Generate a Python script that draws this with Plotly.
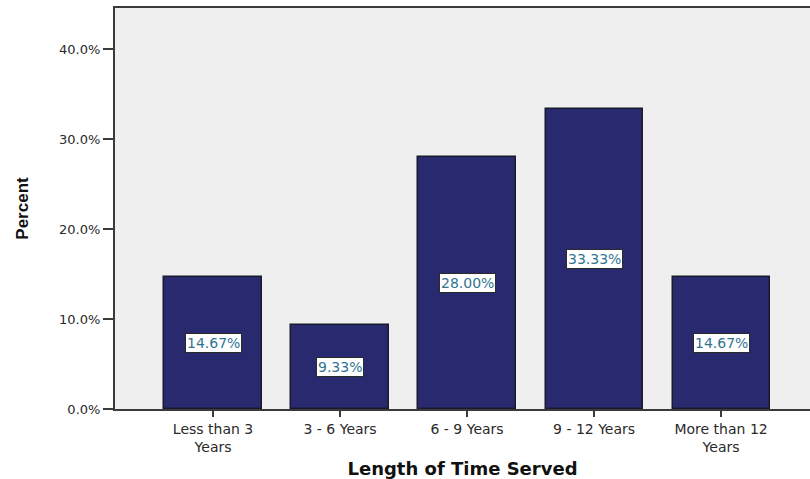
import plotly.graph_objects as go

# Length of time served, share of respondents (%)
categories = ["Less than 3<br>Years", "3 - 6 Years", "6 - 9 Years", "9 - 12 Years", "More than 12<br>Years"]
percent = [14.67, 9.33, 28.00, 33.33, 14.67]
y_ticks = [0, 10, 20, 30, 40]
y_tick_labels = ["0.0%", "10.0%", "20.0%", "30.0%", "40.0%"]

bar_color = "#29296f"
label_color = "#2f7492"
axis_color = "#3a3a3a"
font_family = "DejaVu Sans, Verdana, sans-serif"

x_idx = list(range(len(categories)))

fig = go.Figure()
fig.add_trace(go.Bar(
    x=x_idx,
    y=percent,
    width=0.765,
    marker=dict(color=bar_color, line=dict(color="#1a1a2a", width=1.5)),
    hoverinfo="skip",
))

# Value labels boxed at mid-height of each bar
for xi, v in zip(x_idx, percent):
    fig.add_annotation(
        x=xi, y=v / 2, text=f"{v:.2f}%", showarrow=False,
        font=dict(family=font_family, size=14, color=label_color),
        bgcolor="white", bordercolor="#2a2a2a", borderwidth=1, borderpad=1,
    )

fig.update_layout(
    width=810, height=479,
    margin=dict(l=115, r=0, t=8, b=70),
    paper_bgcolor="white",
    plot_bgcolor="#efefef",
    showlegend=False,
    bargap=0,
    font=dict(family=font_family, color="#222222"),
    xaxis=dict(
        range=[-0.772, 4.70],
        tickmode="array", tickvals=x_idx, ticktext=categories,
        ticks="outside", ticklen=6, tickwidth=1.5, tickcolor=axis_color,
        showline=True, linecolor=axis_color, linewidth=2, mirror=True,
        showgrid=False, zeroline=False,
        tickfont=dict(size=14, color="#2a2a2a"),
        title=dict(text="<b>Length of Time Served</b>", font=dict(size=18, color="#111111"), standoff=8),
    ),
    yaxis=dict(
        range=[0, 44.56],
        tickmode="array", tickvals=y_ticks, ticktext=y_tick_labels,
        ticks="outside", ticklen=10, tickwidth=1.5, tickcolor=axis_color,
        showline=True, linecolor=axis_color, linewidth=2,
        showgrid=False, zeroline=False,
        tickfont=dict(size=13, color="#2a2a2a"),
        title=dict(text="<b>Percent</b>", font=dict(size=17, family="Liberation Sans Narrow, Liberation Sans, Arial, sans-serif", color="#111111"), standoff=26),
    ),
)

fig.write_html("out.html")
